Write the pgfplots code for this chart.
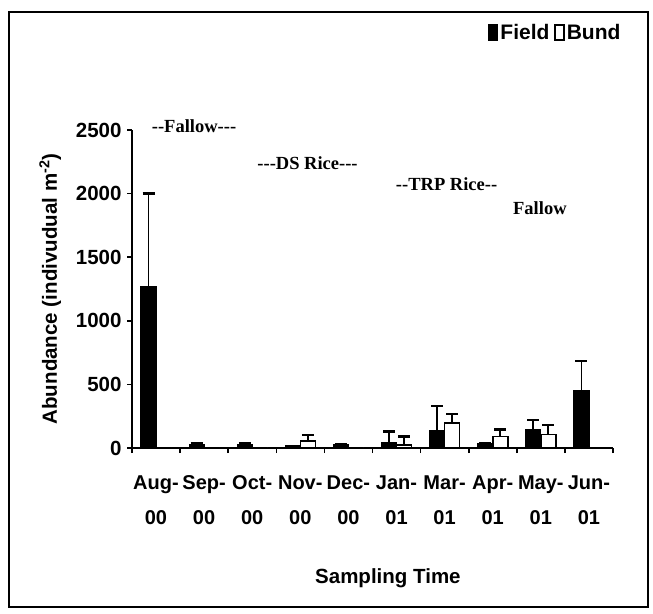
\documentclass[border=0pt]{standalone}
\usepackage{pgfplots}
\pgfplotsset{compat=1.18}
\usepackage{fontspec}
\setmainfont{Liberation Sans}
\newfontfamily\serif{Liberation Serif}
\begin{document}
\begin{tikzpicture}[x=1pt,y=1pt]
\path[use as bounding box] (0,0) rectangle (653,613);
\draw[line width=1.8pt] (9,6) rectangle (648,601);
\begin{axis}[
  at={(132pt,165pt)}, anchor=south west,
  scale only axis, width=481pt, height=318pt,
  ybar=0pt, bar width=15pt,
  xmin=-0.5, xmax=9.5, ymin=0, ymax=2500,
  axis lines*=left,
  axis line style={line width=1.8pt},
  every tick/.style={black, line width=1.6pt},
  tick align=outside, major tick length=5pt,
  tick pos=left,
  xtick={-0.5,0.5,...,9.5},
  xticklabels={{Aug-\\00},{Sep-\\00},{Oct-\\00},{Nov-\\00},{Dec-\\00},{Jan-\\01},{Mar-\\01},{Apr-\\01},{May-\\01},{Jun-\\01},{}},
  xticklabel style={align=center, xshift=24pt, yshift=-19pt, font=\bfseries\fontsize{20}{35}\selectfont},
  ytick={0,500,...,2500},
  yticklabel style={font=\bfseries\fontsize{20.5}{24}\selectfont, xshift=-2pt},
  /pgf/number format/assume math mode=true,
  /pgf/number format/1000 sep={},
  xlabel={Sampling Time},
  ylabel={Abundance (indivudual m\textsuperscript{-2})},
  every axis x label/.style={at={(axis description cs:0.532,-0.41)}, anchor=center, font=\bfseries\fontsize{20.5}{24}\selectfont},
  every axis y label/.style={at={(axis description cs:-0.17,0.5)}, rotate=90, anchor=center, font=\bfseries\fontsize{20.5}{24}\selectfont},
  legend columns=2,
  legend style={at={(0.88,1.305)}, anchor=center, draw=none, fill=none, font=\bfseries\fontsize{21}{24}\selectfont,
    /tikz/every even column/.append style={column sep=3pt}, inner sep=0pt},
  legend image code/.code={\draw[#1, line width=1.3pt] (0pt,-7pt) rectangle (9pt,8pt);},
  clip=false,
  error bars/y dir=plus, error bars/y explicit,
  error bars/error bar style={line width=1.8pt, black},
  error bars/error mark options={rotate=90, mark size=6pt, line width=2.2pt, black},
]
\addplot[fill=black, draw=black, line width=1.2pt] coordinates {
 (0,1270) +- (0,730)
 (1,30) +- (0,10)
 (2,25) +- (0,10)
 (3,16) +- (0,0)
 (4,30) +- (0,0)
 (5,40) +- (0,90)
 (6,135) +- (0,195)
 (7,35) +- (0,0)
 (8,145) +- (0,78)
 (9,455) +- (0,230)
};
\addplot[fill=white, draw=black, line width=1.6pt] coordinates {
 (0,0) +- (0,0)
 (1,0) +- (0,0)
 (2,0) +- (0,0)
 (3,55) +- (0,45)
 (4,0) +- (0,0)
 (5,25) +- (0,65)
 (6,195) +- (0,70)
 (7,90) +- (0,55)
 (8,105) +- (0,78)
 (9,0) +- (0,0)
};
\legend{Field,Bund}
\node[font=\serif\bfseries\fontsize{18.5}{20}\selectfont] at (axis cs:0.79,2533) {-{}-Fallow-{}-{}-};
\node[font=\serif\bfseries\fontsize{18.5}{20}\selectfont] at (axis cs:3.15,2243) {-{}-{}-DS Rice-{}-{}-};
\node[font=\serif\bfseries\fontsize{18.5}{20}\selectfont] at (axis cs:6.04,2078) {-{}-TRP Rice-{}-};
\node[font=\serif\bfseries\fontsize{18.5}{20}\selectfont] at (axis cs:7.98,1882) {Fallow};
\end{axis}
\end{tikzpicture}
\end{document}
